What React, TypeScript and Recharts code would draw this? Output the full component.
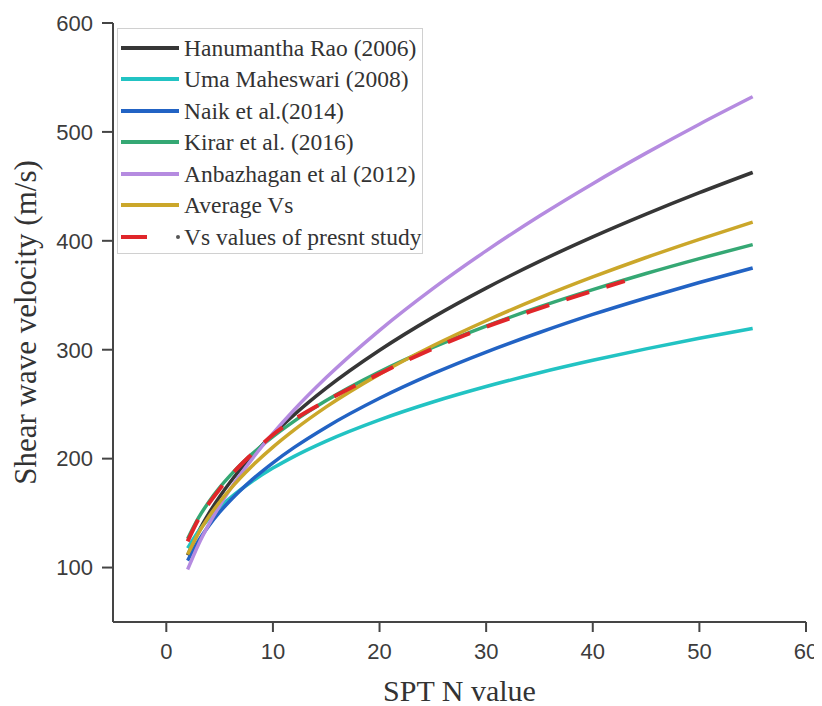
import React from 'react';
import { LineChart, Line, XAxis, YAxis, Legend } from 'recharts';

const nValues = [2, 3, 4, 5, 6, 8, 10, 12, 15, 20, 25, 30, 35, 40, 45, 50, 55];
const hanumantha = [111.3, 132.5, 149.9, 165.0, 178.5, 202.0, 222.3, 240.4, 264.7, 299.5, 329.7, 356.6, 381.1, 403.6, 424.5, 444.2, 462.8];
const uma = [117.8, 133.1, 145.2, 155.3, 164.0, 178.8, 191.3, 202.1, 216.1, 235.6, 252.0, 266.2, 278.9, 290.3, 300.8, 310.5, 319.5];
const naik = [106.4, 124.2, 138.5, 150.8, 161.6, 180.3, 196.2, 210.3, 228.9, 255.4, 278.0, 297.9, 315.8, 332.4, 347.5, 361.7, 375.1];
const kirar = [126.4, 145.3, 160.5, 173.4, 184.6, 203.9, 220.2, 234.5, 253.3, 279.7, 302.1, 321.7, 339.3, 355.2, 370.0, 383.7, 396.5];
const anbazhagan = [98.2, 120.8, 139.8, 156.7, 172.0, 199.1, 223.1, 244.9, 274.4, 317.8, 356.1, 390.8, 422.8, 452.5, 480.5, 507.1, 532.3];
const average = [112.0, 131.2, 146.8, 160.2, 172.1, 192.8, 210.6, 226.4, 247.5, 277.6, 303.6, 326.6, 347.6, 366.8, 384.7, 401.4, 417.2];

const presentN = [2, 3, 4, 5, 6, 8, 10, 12, 15, 20, 25, 30, 35, 40, 43];
const present = [124, 144, 159, 172, 184, 204, 222, 236, 253, 278, 301, 321, 338, 354, 363];

const xTicks = [0, 10, 20, 30, 40, 50, 60];
const yTicks = [100, 200, 300, 400, 500, 600];

const seriesNames = [
  'Hanumantha Rao (2006)',
  'Uma Maheswari (2008)',
  'Naik et al.(2014)',
  'Kirar et al. (2016)',
  'Anbazhagan et al (2012)',
  'Average Vs',
  'Vs values of presnt study',
];
const seriesKeys = ['hanumantha', 'uma', 'naik', 'kirar', 'anbazhagan', 'average'];
const seriesColors = ['#363636', '#22c3c3', '#2263c4', '#35a874', '#b58be0', '#cba72a', '#e0262a'];

const mainData = nValues.map((n, i) => ({
  n,
  hanumantha: hanumantha[i],
  uma: uma[i],
  naik: naik[i],
  kirar: kirar[i],
  anbazhagan: anbazhagan[i],
  average: average[i],
}));
const presentData = presentN.map((n, i) => ({ n, present: present[i] }));

const AXIS = '#454545';
const serif = '"Liberation Serif", "Times New Roman", serif';
const sans = '"Liberation Sans", Arial, sans-serif';

function LegendBox() {
  return (
    <div
      style={{
        width: 306,
        height: 226,
        boxSizing: 'border-box',
        border: '1px solid #d0d0d0',
        background: '#fff',
        paddingTop: 3,
      }}
    >
      {seriesNames.map((name, i) => (
        <div key={name} style={{ height: 31.5, display: 'flex', alignItems: 'center' }}>
          <svg width={64} height={12} style={{ marginLeft: 2, flex: 'none' }}>
            {i < 6 ? (
              <line x1={1} y1={6} x2={59} y2={6} stroke={seriesColors[i]} strokeWidth={4} />
            ) : (
              <g>
                <line x1={1} y1={6} x2={27} y2={6} stroke={seriesColors[i]} strokeWidth={4} />
                <circle cx={58} cy={6} r={2} fill="#555" />
              </g>
            )}
          </svg>
          <span
            style={{
              whiteSpace: 'nowrap',
              lineHeight: '24px',
              fontFamily: 'Liberation Serif',
              fontSize: 23.5,
              color: '#333',
            }}
          >
            {name}
          </span>
        </div>
      ))}
    </div>
  );
}

const YTitle = (props: any) => {
  const vb = props.viewBox || {};
  const cy = (vb.y || 0) + (vb.height || 0) / 2;
  return (
    <text
      x={17}
      y={cy}
      transform={`rotate(-90, 17, ${cy})`}
      textAnchor="middle"
      dominantBaseline="central"
      fontFamily={serif}
      fontSize={31}
      fill="#333"
    >
      Shear wave velocity (m/s)
    </text>
  );
};

const XTitle = (props: any) => {
  const vb = props.viewBox || {};
  const cx = (vb.x || 0) + (vb.width || 0) / 2;
  return (
    <text x={cx} y={682} textAnchor="middle" dominantBaseline="central" fontFamily={serif} fontSize={30} fill="#333">
      SPT N value
    </text>
  );
};

export default function App() {
  return (
    <div style={{ width: 814, height: 698 }}>
      <LineChart width={814} height={698} data={mainData} margin={{ top: 15, right: 16, bottom: 0, left: 0 }}>
        <XAxis
          dataKey="n"
          type="number"
          domain={[-5, 60]}
          ticks={xTicks}
          allowDataOverflow
          height={84}
          tickSize={10}
          tickMargin={11}
          stroke={AXIS}
          strokeWidth={2}
          tick={{ fill: '#3c3c3c', fontSize: 22, fontFamily: sans }}
          label={<XTitle />}
        />
        <XAxis
          xAxisId="top"
          orientation="top"
          type="number"
          domain={[-5, 60]}
          height={0}
          tick={false}
          tickLine={false}
          stroke={AXIS}
          strokeWidth={2}
        />
        <YAxis
          type="number"
          domain={[50, 600]}
          ticks={yTicks}
          allowDataOverflow
          width={105}
          tickSize={11}
          tickMargin={9}
          stroke={AXIS}
          strokeWidth={2}
          tick={{ fill: '#3c3c3c', fontSize: 22, fontFamily: sans }}
          label={<YTitle />}
        />
        <YAxis
          yAxisId="right"
          orientation="right"
          type="number"
          domain={[50, 600]}
          width={0}
          tick={false}
          tickLine={false}
          stroke={AXIS}
          strokeWidth={2}
        />
        {seriesKeys.map((k, i) => (
          <Line
            key={k}
            type="monotone"
            dataKey={k}
            stroke={seriesColors[i]}
            strokeWidth={3.5}
            dot={false}
            activeDot={false}
            isAnimationActive={false}
          />
        ))}
        <Line
          type="monotone"
          data={presentData}
          dataKey="present"
          stroke={seriesColors[6]}
          strokeWidth={4}
          strokeDasharray="24 18"
          dot={false}
          activeDot={false}
          isAnimationActive={false}
        />
        <Legend
          layout="vertical"
          align="center"
          verticalAlign="middle"
          wrapperStyle={{ left: 109, top: 20, width: 306, height: 226 }}
          content={() => <LegendBox />}
        />
      </LineChart>
    </div>
  );
}
